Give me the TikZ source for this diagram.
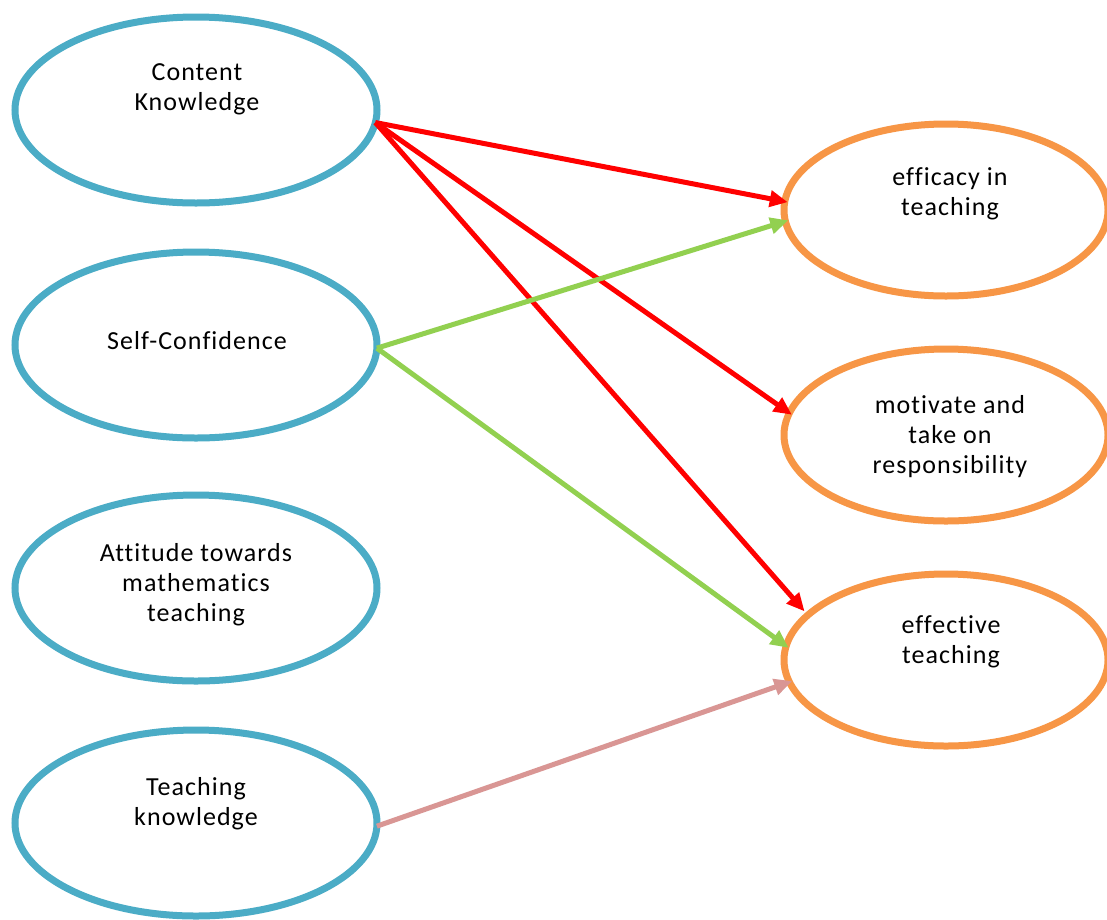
\documentclass[tikz,border=0pt]{standalone}
\usepackage{fontspec}
\setmainfont{Carlito}[LetterSpace=4, Ligatures={NoCommon, NoRequired}]
\usetikzlibrary{shapes.geometric,arrows.meta}
\definecolor{cblue}{HTML}{4BACC6}
\definecolor{corange}{HTML}{F79646}
\definecolor{cred}{HTML}{FF0000}
\definecolor{cgreen}{HTML}{92D050}
\definecolor{cpink}{HTML}{D99694}
\tikzset{
  leftell/.style={ellipse, draw=cblue, line width=7pt, fill=white, minimum width=362pt, minimum height=186pt, inner sep=0pt, outer sep=0pt},
  rightell/.style={ellipse, draw=corange, line width=7pt, fill=white, minimum width=324pt, minimum height=172pt, inner sep=0pt, outer sep=0pt},
  lbl/.style={align=center, font=\fontsize{26}{30}\selectfont, text=black, inner sep=0pt},
  conn/.style={line width=5pt, -{Triangle[length=18pt,width=16pt]}, shorten >=-3pt},
}
\begin{document}
\begin{tikzpicture}[x=1pt,y=-1pt]
\useasboundingbox[fill=white] (0,0) rectangle (1107,919);
% left ellipses
\node[leftell] (ck) at (196,110) {};
\node[leftell] (sc) at (196,345) {};
\node[leftell] (at) at (196,588) {};
\node[leftell] (tk) at (196,823) {};
% right ellipses
\node[rightell] (ef) at (946,210) {};
\node[rightell] (mt) at (946,435) {};
\node[rightell] (et) at (946,660) {};
% labels
\node[lbl] (tck) at (197,89) {Content\\Knowledge};
\node[lbl] (tsc) at (197,341) {Self-Confidence};
\node[lbl] (tat) at (196,585) {Attitude towards\\mathematics\\teaching};
\node[lbl] (ttk) at (196,804) {Teaching\\knowledge};
\node[lbl] (tef) at (950,194) {efficacy in\\teaching};
\node[lbl] (tmt) at (950,437) {motivate and\\take on\\responsibility};
\node[lbl] (tet) at (951,642) {effective\\teaching};
% connectors
\draw[conn, cred] (ck.-4.7) -- (ef.177.5);
\draw[conn, cred] (ck.-4.7) -- (mt.172);
\draw[conn, cred, shorten >=5pt] (ck.-4.7) -- (et.162);
\draw[conn, cgreen] (sc.-1) -- (ef.184.2);
\draw[conn, cgreen] (sc.-1) -- (et.175.8);
\draw[conn, cpink] (tk.-1.3) -- (et.188.5);
\end{tikzpicture}
\end{document}
